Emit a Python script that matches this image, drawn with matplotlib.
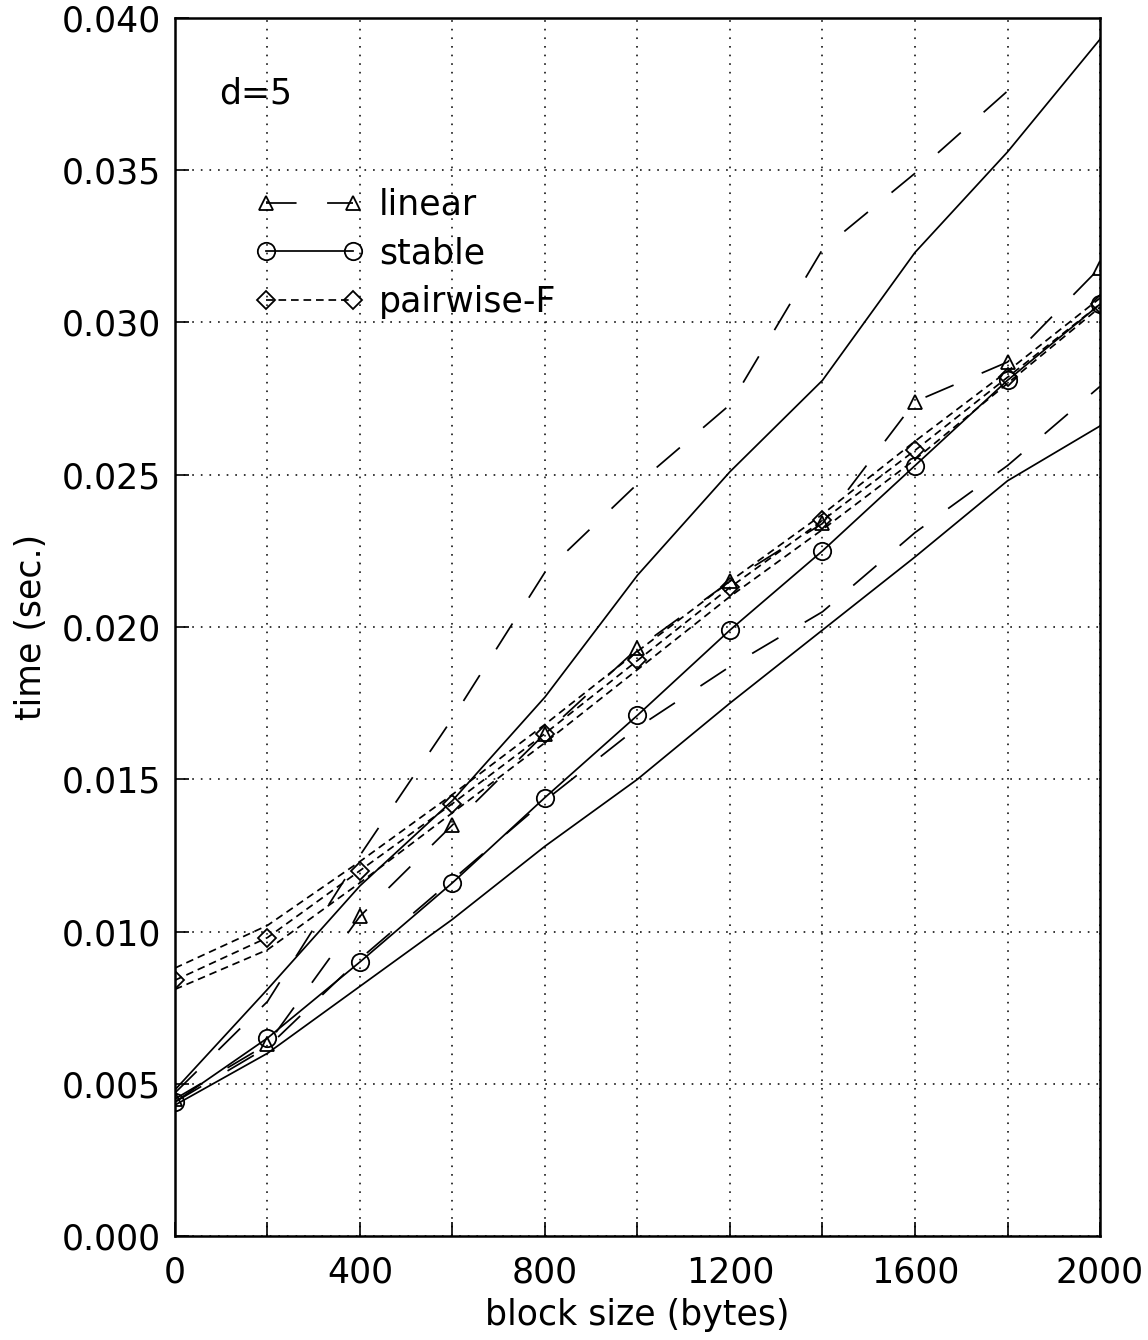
import numpy as np
import matplotlib
matplotlib.use("Agg")
import matplotlib.pyplot as plt
from matplotlib.ticker import MultipleLocator, FormatStrFormatter

plt.rcParams['font.family'] = ['DejaVu Sans']
plt.rcParams['lines.scale_dashes'] = False

# ---- data ----
block_size = [0, 200, 400, 600, 800, 1000, 1200, 1400, 1600, 1800, 2000]

linear_mean  = [0.0045, 0.0063, 0.0105, 0.0135, 0.0165, 0.0193, 0.0215, 0.0234, 0.0274, 0.0287, 0.0318]
linear_upper = [0.0047, 0.0077, 0.0125, 0.0170, 0.0218, 0.0247, 0.0273, 0.0324, 0.0349, 0.0376, np.nan]
linear_lower = [0.0044, 0.0062, 0.0091, 0.0117, 0.0143, 0.0167, 0.0187, 0.0205, 0.0231, 0.0253, 0.0279]

stable_mean  = [0.0044, 0.0065, 0.0090, 0.0116, 0.0144, 0.0171, 0.0199, 0.0225, 0.0253, 0.0281, 0.0306]
stable_upper = [0.0048, 0.0081, 0.0115, 0.0143, 0.0177, 0.0217, 0.0251, 0.0281, 0.0323, 0.0356, 0.0393]
stable_lower = [0.0043, 0.0060, 0.0082, 0.0104, 0.0128, 0.0150, 0.0175, 0.0199, 0.0223, 0.0248, 0.0266]

pairwise_mean  = [0.0084, 0.0098, 0.0120, 0.0142, 0.0165, 0.0189, 0.0213, 0.0235, 0.0258, 0.0282, 0.0306]
pairwise_upper = [0.0088, 0.0102, 0.0123, 0.0145, 0.0168, 0.0192, 0.0215, 0.0237, 0.0261, 0.0284, 0.0308]
pairwise_lower = [0.0081, 0.0094, 0.0116, 0.0139, 0.0162, 0.0186, 0.0210, 0.0232, 0.0255, 0.0280, 0.0305]

series_labels = ["linear", "stable", "pairwise-F"]
x_ticks = [0, 400, 800, 1200, 1600, 2000]
annotation = "d=5"

# ---- styling ----
LW = 1.25
long_dash = (0, (22, 22))
short_dash = (0, (5.5, 3.5))
FS = 25

fig = plt.figure(figsize=(11.48, 13.40), dpi=100)
ax = fig.add_axes([0.1524, 0.0776, 0.8058, 0.909])

# bands (no markers)
ax.plot(block_size, linear_upper, color='black', lw=LW, linestyle=long_dash)
ax.plot(block_size, linear_lower, color='black', lw=LW, linestyle=long_dash)
ax.plot(block_size, stable_upper, color='black', lw=LW, linestyle='-')
ax.plot(block_size, stable_lower, color='black', lw=LW, linestyle='-')
ax.plot(block_size, pairwise_upper, color='black', lw=LW, linestyle=short_dash)
ax.plot(block_size, pairwise_lower, color='black', lw=LW, linestyle=short_dash)

# means with markers
ax.plot(block_size, linear_mean, color='black', lw=LW, linestyle=long_dash,
        marker='^', ms=10.5, mfc='none', mec='black', mew=1.3, label=series_labels[0])
ax.plot(block_size, stable_mean, color='black', lw=LW, linestyle='-',
        marker='o', ms=12.5, mfc='none', mec='black', mew=1.3, label=series_labels[1])
ax.plot(block_size, pairwise_mean, color='black', lw=LW, linestyle=short_dash,
        marker='D', ms=9.5, mfc='none', mec='black', mew=1.3, label=series_labels[2])

ax.set_xlim(0, 2000)
ax.set_ylim(0, 0.040)
ax.xaxis.set_major_locator(MultipleLocator(400))
ax.xaxis.set_minor_locator(MultipleLocator(200))
ax.yaxis.set_major_locator(MultipleLocator(0.005))
ax.yaxis.set_major_formatter(FormatStrFormatter('%.3f'))
ax.set_xticks(x_ticks)

ax.grid(True, which='both', axis='x', color='black', linestyle=(0, (1.2, 5)), lw=1.1)
ax.grid(True, which='major', axis='y', color='black', linestyle=(0, (1.2, 5)), lw=1.1)

ax.tick_params(axis='both', which='both', direction='in', top=False, right=False,
               length=10, width=1.2, labelsize=FS, pad=10)
ax.tick_params(axis='x', which='major', pad=14)
for s in ax.spines.values():
    s.set_linewidth(1.8)

ax.set_xlabel("block size (bytes)", fontsize=FS, labelpad=6)
ax.set_ylabel("time (sec.)", fontsize=FS, labelpad=10)

ax.text(0.048, 0.938, annotation, transform=ax.transAxes, fontsize=FS, va='center', ha='left')

leg = ax.legend(loc='upper left', bbox_to_anchor=(0.072, 0.872), frameon=False,
                numpoints=2, handlelength=3.1, handletextpad=0.45, labelspacing=0.42,
                fontsize=FS, borderaxespad=0)

fig.savefig("out.png", dpi=100)
